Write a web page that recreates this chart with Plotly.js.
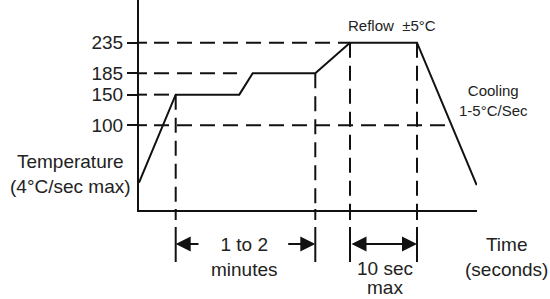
<!DOCTYPE html>
<html><head><meta charset="utf-8">
<script src="https://cdn.plot.ly/plotly-3.0.1.min.js"></script>
<style>html,body{margin:0;padding:0;background:#fff}</style>
</head><body><div id="chart" style="width:550px;height:299px"></div>
<script>
// Schematic reflow profile (time axis is schematic, arbitrary units from the axis origin)
const profileTime = [0, 36.7, 100.3, 113.7, 176.3, 211, 278, 337.7];
const profileTemp = [6, 150, 150, 185, 185, 235, 235, 2];

// Temperature ticks
const tempTicks = [100, 150, 185, 235];
const tempTickLabels = ['100', '150', '185', '235'];

// Horizontal dashed guides: level and where each ends
const guideLevels = [235, 185, 150, 100];
const guideEnds = [211, 98, 36.7, 312];
const guideStart = 15;
const tickInnerEnd = 8;

// Vertical dashed guides: time and the level they drop from
const markerTimes = [36.7, 176.3, 211, 278];
const markerTops = [150, 185, 235, 235];

// Dimension spans
const soakSpan = [36.7, 176.3];      // 1 to 2 minutes
const soakArrowTails = [61, 147.7];
const reflowSpan = [211, 278];       // 10 sec max

const yRange = [-38.8, 304.9];
const xRange = [0, 338];

const INK = '#111';
const DASH = '15px,8px';

function segs(xPairs, yPairs) {
  const x = [], y = [];
  for (let i = 0; i < xPairs.length; i++) {
    x.push(xPairs[i][0], xPairs[i][1], null);
    y.push(yPairs[i][0], yPairs[i][1], null);
  }
  return {x, y};
}

const hg = segs(guideLevels.map((l, i) => [guideStart, guideEnds[i]]), guideLevels.map(l => [l, l]));
const ti = segs(tempTicks.map(() => [0, tickInnerEnd]), tempTicks.map(t => [t, t]));

const traces = [
  {x: hg.x, y: hg.y, mode: 'lines', line: {color: INK, width: 2, dash: DASH}, hoverinfo: 'skip'}
];
markerTimes.forEach((t, i) => {
  traces.push({x: [t, t], y: [markerTops[i], yRange[0]], mode: 'lines', line: {color: INK, width: 2, dash: DASH}, hoverinfo: 'skip'});
});
traces.push({x: ti.x, y: ti.y, mode: 'lines', line: {color: INK, width: 2}, hoverinfo: 'skip'});
traces.push({x: profileTime, y: profileTemp, mode: 'lines', line: {color: INK, width: 2}, hoverinfo: 'skip'});

const plotH = 210, plotW = 338, plotL = 139, plotB = 210;
const py = p => (plotB - p) / plotH;   // pixel row -> paper
const px = p => (p - plotL) / plotW;   // pixel col -> paper

const shapes = [];
markerTimes.forEach(t => {
  shapes.push({type: 'line', xref: 'x', yref: 'paper', x0: t, x1: t, y0: py(209), y1: py(220), line: {color: INK, width: 2}});
  shapes.push({type: 'line', xref: 'x', yref: 'paper', x0: t, x1: t, y0: py(227), y1: py(262), line: {color: INK, width: 2}});
});

const arrowY = py(244);
const arrowBase = {xref: 'x', yref: 'paper', axref: 'x', ayref: 'pixel', ay: 0, text: ' ', font: {size: 1},
  showarrow: true, arrowhead: 2, arrowsize: 1.5, arrowwidth: 2, arrowcolor: INK, standoff: 0, startstandoff: 0};

const txt = (text, x, y, size) => ({text, xref: 'paper', yref: 'paper', x: px(x), y: py(y),
  xanchor: 'center', yanchor: 'middle', showarrow: false, font: {size}, borderpad: 0});

const annotations = [
  Object.assign({}, arrowBase, {x: soakSpan[0], y: arrowY, ax: soakArrowTails[0]}),
  Object.assign({}, arrowBase, {x: soakSpan[1], y: arrowY, ax: soakArrowTails[1]}),
  Object.assign({}, arrowBase, {x: reflowSpan[1], y: arrowY, ax: reflowSpan[0], arrowside: 'end+start', startarrowhead: 2, startarrowsize: 1.5}),
  txt('Reflow  ±5°C', 391.7, 25, 15),
  txt('Cooling<br>1-5°C/Sec', 493, 100, 15),
  txt('Temperature<br>(4°C/sec max)', 70.5, 174.2, 19),
  txt('1 to 2<br>minutes', 244.2, 256.7, 19),
  txt('10 sec', 385, 268.5, 19),
  txt('max', 385, 287.5, 19),
  txt('Time<br>(seconds)', 506, 256.7, 19)
];

const layout = {
  width: 550, height: 299,
  margin: {l: plotL, r: 550 - plotL - plotW, t: 0, b: 299 - plotB, pad: 0},
  showlegend: false,
  paper_bgcolor: '#ffffff', plot_bgcolor: 'rgba(0,0,0,0)',
  font: {family: '"Liberation Sans", Arial, sans-serif', color: '#222', size: 19},
  xaxis: {range: xRange, showline: true, linewidth: 2, linecolor: INK, showgrid: false, zeroline: false,
          showticklabels: false, ticks: '', fixedrange: true},
  yaxis: {range: yRange, showline: true, linewidth: 2, linecolor: INK, showgrid: false, zeroline: false,
          tickmode: 'array', tickvals: tempTicks, ticktext: tempTickLabels, ticks: 'outside', ticklen: 10,
          tickwidth: 2, tickcolor: INK, tickfont: {size: 19, color: '#222'}, fixedrange: true},
  shapes, annotations, hovermode: false
};

Plotly.newPlot('chart', traces, layout, {staticPlot: true, displayModeBar: false});
</script></body></html>
